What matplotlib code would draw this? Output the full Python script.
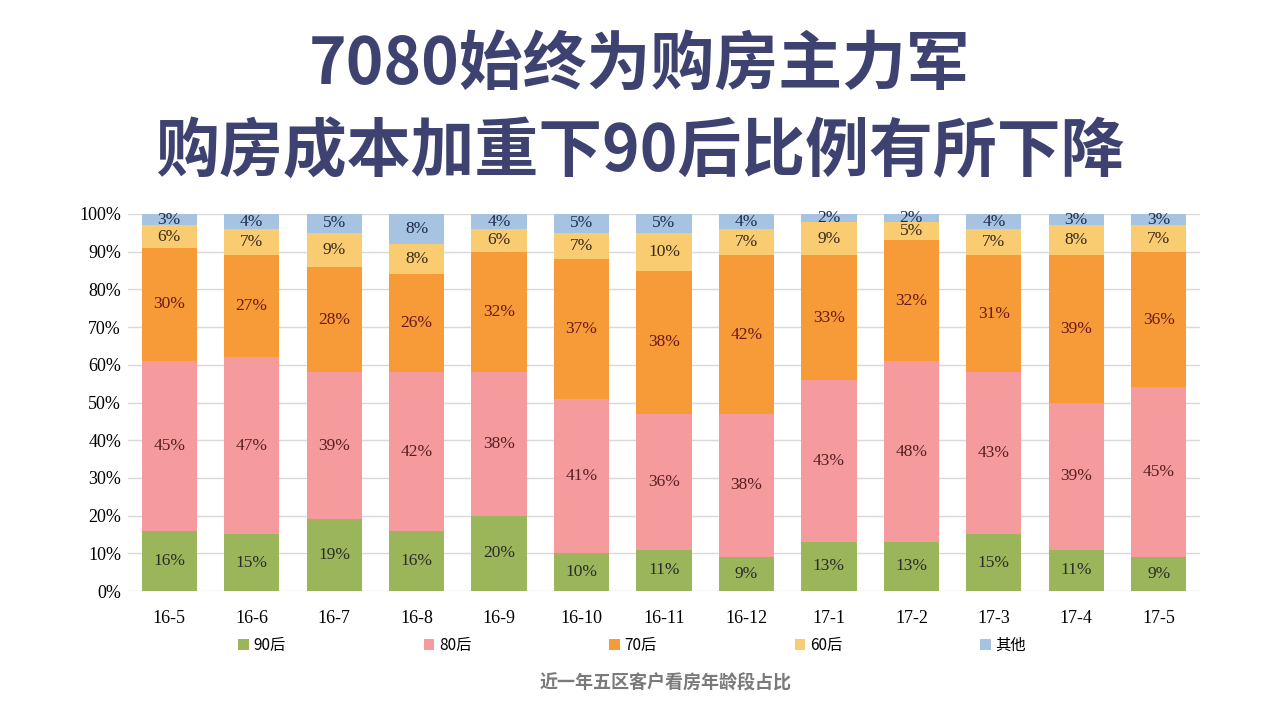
import numpy as np
import matplotlib.pyplot as plt

months = ['16-5', '16-6', '16-7', '16-8', '16-9', '16-10', '16-11', '16-12',
          '17-1', '17-2', '17-3', '17-4', '17-5']
series = ['90后', '80后', '70后', '60后', '其他']
after90 = [16, 15, 19, 16, 20, 10, 11, 9, 13, 13, 15, 11, 9]
after80 = [45, 47, 39, 42, 38, 41, 36, 38, 43, 48, 43, 39, 45]
after70 = [30, 27, 28, 26, 32, 37, 38, 42, 33, 32, 31, 39, 36]
after60 = [6, 7, 9, 8, 6, 7, 10, 7, 9, 5, 7, 8, 7]
others = [3, 4, 5, 8, 4, 5, 5, 4, 2, 2, 4, 3, 3]

colors = ['#9bb65a', '#f59b9d', '#f79a38', '#f9cc72', '#a6c4e2']
label_colors = ['#2b2b2b', '#5a1e24', '#6a1a1a', '#3a2a1a', '#1f2d4d']

CJK = ['Noto Sans CJK SC', 'DejaVu Sans']
SERIF = 'Liberation Serif'

fig = plt.figure(figsize=(12.8, 7.2), dpi=100)
ax = fig.add_axes([128 / 1280, (720 - 591) / 720, 1072 / 1280, 377 / 720])

x = np.arange(len(months))
bottom = np.zeros(len(months))
for name, vals, c, lc in zip(series, [after90, after80, after70, after60, others],
                             colors, label_colors):
    vals = np.array(vals, dtype=float)
    ax.bar(x, vals, 0.67, bottom=bottom, color=c, label=name, zorder=2)
    for xi, b, v in zip(x, bottom, vals):
        ax.text(xi, b + v / 2, f'{int(v)}%', ha='center', va='center',
                fontsize=12.5, family=SERIF, color=lc, zorder=3)
    bottom += vals

ax.set_xlim(-0.5, len(months) - 0.5)
ax.set_ylim(0, 100)
ax.set_yticks(range(0, 101, 10))
ax.set_yticklabels([f'{t}%' for t in range(0, 101, 10)], family=SERIF, fontsize=13)
ax.set_xticks(x)
ax.set_xticklabels(months, family=SERIF, fontsize=13)
ax.tick_params(axis='both', length=0)
ax.tick_params(axis='x', pad=14)
ax.tick_params(axis='y', pad=5)
ax.grid(axis='y', color='#d9d9d9', linewidth=1, zorder=0)
for s in ax.spines.values():
    s.set_visible(False)

fig.legend(loc='lower left', bbox_to_anchor=(232 / 1280, 60 / 720, 800 / 1280, 0.03),
           ncol=5, mode='expand', frameon=False, prop={'family': CJK, 'size': 11},
           handlelength=0.7, handleheight=0.7, handletextpad=0.3, borderaxespad=0)

fig.text(0.5, 1 - 65 / 720, '7080始终为购房主力军', ha='center', va='center',
         fontsize=46, fontweight='bold', family=CJK, color='#3d4270')
fig.text(0.5, 1 - 152 / 720, '购房成本加重下90后比例有所下降', ha='center', va='center',
         fontsize=46, fontweight='bold', family=CJK, color='#3d4270')
fig.text(0.52, 37 / 720, '近一年五区客户看房年龄段占比', ha='center', va='center',
         fontsize=13, fontweight='bold', family=CJK, color='#7a7a7a')

fig.savefig('out.png', dpi=100, facecolor='white')
